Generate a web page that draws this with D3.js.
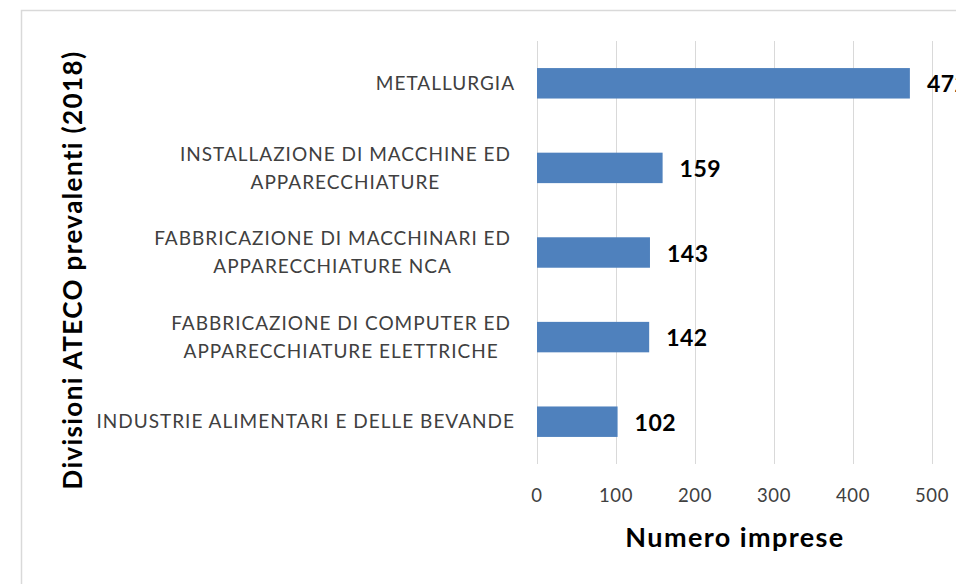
<!DOCTYPE html>
<html><head><meta charset="utf-8">
<script src="https://cdn.jsdelivr.net/npm/d3@7"></script>
<style>body{margin:0;background:#fff;}svg{display:block;}text{font-family:Lato,"Open Sans",sans-serif;}</style>
</head><body>
<svg id="c" width="956" height="584"></svg>
<script>
const categories = [
  ["METALLURGIA"],
  ["INSTALLAZIONE DI MACCHINE ED", "APPARECCHIATURE"],
  ["FABBRICAZIONE DI MACCHINARI ED", "APPARECCHIATURE NCA"],
  ["FABBRICAZIONE DI COMPUTER ED", "APPARECCHIATURE ELETTRICHE"],
  ["INDUSTRIE ALIMENTARI E DELLE BEVANDE"]
];
const values = [472, 159, 143, 142, 102];
const ticks = [0, 100, 200, 300, 400, 500];
const xTitle = "Numero imprese";
const yTitle = "Divisioni ATECO prevalenti (2018)";

const svg = d3.select("#c");
svg.append("rect").attr("x", 21.5).attr("y", 10.5).attr("width", 1000).attr("height", 1000)
  .attr("fill", "#fff").attr("stroke", "#d9d9d9").attr("stroke-width", 1.5);

const x = d3.scaleLinear().domain([0, 500]).range([537, 932]);
const y = d3.scaleBand().domain(d3.range(categories.length)).range([41, 464]).paddingInner(0.64).paddingOuter(0.32);

const g = svg.append("g");
g.selectAll("line.grid").data(ticks).join("line")
  .attr("x1", d => Math.round(x(d)) + 0.5).attr("x2", d => Math.round(x(d)) + 0.5)
  .attr("y1", 41).attr("y2", 464).attr("stroke", "#d9d9d9").attr("stroke-width", 1);

g.selectAll("rect.bar").data(values).join("rect")
  .attr("x", x(0)).attr("y", (d, i) => y(i)).attr("width", d => x(d) - x(0)).attr("height", y.bandwidth())
  .attr("fill", "#4f81bd");

g.selectAll("text.val").data(values).join("text")
  .attr("x", d => x(d) + 17).attr("y", (d, i) => y(i) + y.bandwidth() / 2 + 1).attr("dy", "0.35em")
  .attr("font-size", 23).attr("font-weight", "bold").attr("letter-spacing", 0.5).attr("fill", "#000").text(d => d);

g.selectAll("text.tick").data(ticks).join("text")
  .attr("x", d => x(d)).attr("y", 496).attr("dy", "0.35em").attr("text-anchor", "middle")
  .attr("font-size", 18.5).attr("letter-spacing", 0.6).attr("fill", "#404040").text(d => d);

categories.forEach((lines, i) => {
  const cy = y(i) + y.bandwidth() / 2;
  const t = g.append("text").attr("font-size", 19).attr("letter-spacing", 1).attr("fill", "#404040");
  const spans = lines.map((l, j) =>
    t.append("tspan").attr("y", cy + (j - (lines.length - 1) / 2) * 28).attr("dy", "0.35em").text(l));
  const widths = spans.map(s => s.node().getComputedTextLength());
  const maxW = d3.max(widths);
  spans.forEach((s, j) => {
    if (lines.length === 1) s.attr("x", 515).attr("text-anchor", "end");
    else s.attr("x", 511 - maxW / 2).attr("text-anchor", "middle");
  });
});

svg.append("text").attr("x", 735).attr("y", 538).attr("dy", "0.35em").attr("text-anchor", "middle")
  .attr("font-size", 27).attr("font-weight", "bold").attr("letter-spacing", 1.4).attr("fill", "#000").text(xTitle);
svg.append("text").attr("transform", "translate(73,270) rotate(-90)").attr("dy", "0.35em").attr("text-anchor", "middle")
  .attr("font-size", 26).attr("font-weight", "bold").attr("letter-spacing", 1.4).attr("fill", "#000").text(yTitle);
</script>
</body></html>
